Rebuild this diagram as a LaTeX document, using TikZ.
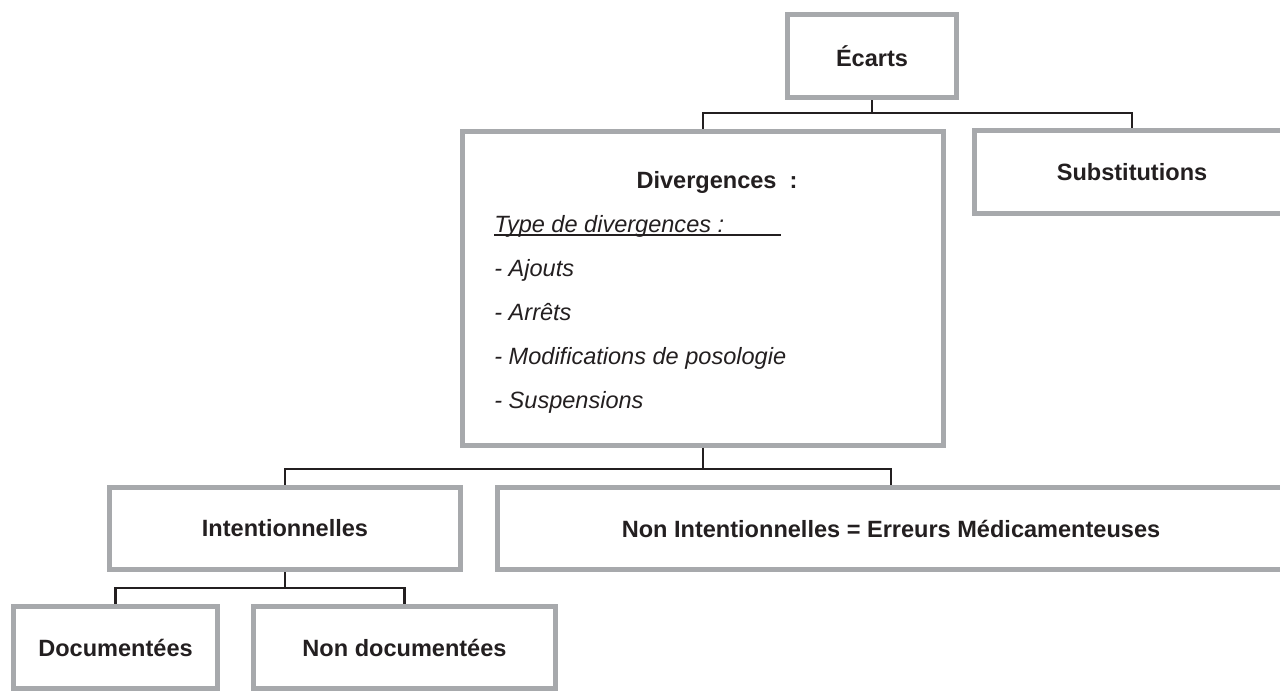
\documentclass[tikz,border=0pt]{standalone}
\usepackage{fontspec}
\setmainfont{Liberation Sans}
\usepackage{tikz}

\definecolor{boxgray}{RGB}{167,169,172}
\definecolor{ink}{RGB}{35,31,32}
\newcommand{\diagfont}{\fontsize{13.4}{16}\selectfont}

\begin{document}
\begin{tikzpicture}[x=0.02cm,y=-0.02cm,
  box/.style={draw=boxgray,line width=0.1cm,inner sep=0pt,text=ink,font=\diagfont\bfseries},
  link/.style={draw=ink,line width=0.05cm},
  item/.style={anchor=base west,inner sep=0pt,text=ink,font=\diagfont\itshape}]
\path[use as bounding box] (0,0) rectangle (1280,691);
\clip (0,0) rectangle (1280,691);

% top level
\node[box,minimum width=3.38cm,minimum height=1.66cm] (ecarts) at (872,56) {Écarts};
\node[box,minimum width=9.62cm,minimum height=6.28cm] (diverg) at (703,288.5) {};
\node[box,minimum width=6.30cm,minimum height=1.66cm] (subst) at (1132,172) {Substitutions};

% contents of the divergences box
\node[anchor=base,inner sep=0pt,text=ink,font=\diagfont\bfseries] (divtitle) at (717,188) {Divergences\ \ :};
\node[item] (typ) at (494,232) {Type de divergences :};
\node[item] (ajouts) at (494,276) {- Ajouts};
\node[item] (arrets) at (494,320) {- Arrêts};
\node[item] (modif) at (494,364) {- Modifications de posologie};
\node[item] (susp) at (494,408) {- Suspensions};
\draw[ink,line width=0.04cm] ([yshift=-0.06cm]typ.base west) -- ++(287,0);

% second level
\node[box,minimum width=7.02cm,minimum height=1.64cm] (intent) at (285,528.5) {Intentionnelles};
\node[box,minimum width=15.74cm,minimum height=1.64cm] (nonint) at (891,528.5) {Non Intentionnelles = Erreurs Médicamenteuses};

% third level
\node[box,minimum width=4.08cm,minimum height=1.64cm] (docu) at (115.5,647.5) {Documentées};
\node[box,minimum width=6.04cm,minimum height=1.64cm] (nondocu) at (404.5,647.5) {Non documentées};

% connectors
\draw[link] (ecarts.south) -- ++(0,13) -| (diverg.north);
\draw[link] (ecarts.south) -- ++(0,13) -| (subst.north);
\draw[link] (diverg.south) -- ++(0,21) -| (intent.north);
\draw[link] (diverg.south) -- ++(0,21) -| (nonint.north);
\draw[link] (intent.south) -- ++(0,16) -| (docu.north);
\draw[link] (intent.south) -- ++(0,16) -| (nondocu.north);
\end{tikzpicture}
\end{document}
